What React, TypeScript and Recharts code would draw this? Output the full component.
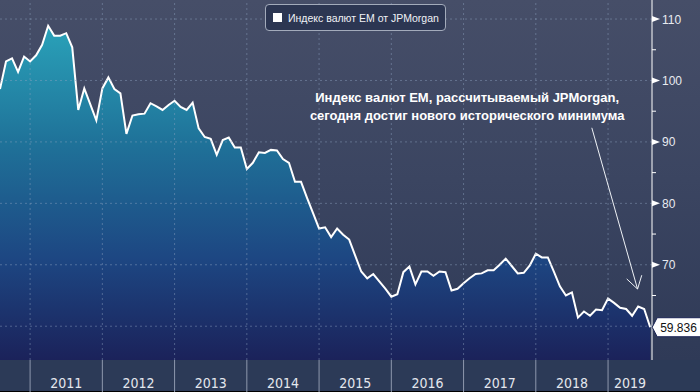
import { AreaChart, Area, XAxis, YAxis, ReferenceLine, ReferenceDot } from "recharts"

// JPMorgan EM currency index, monthly, starting Aug 2010
const seriesName = "Индекс валют EM от JPMorgan"
const startYear = 2010
const startMonth = 8
const values = [
  98.6, 103.1, 103.6, 101.4, 103.9, 103.1, 104.1, 105.8, 108.9, 107.3,
  107.3, 107.7, 105.4, 95.2, 98.7, 96.1, 93.5, 98.7, 100.5, 98.6,
  97.9, 91.3, 94.3, 94.5, 94.6, 96.3, 95.8, 95.2, 96.0, 96.7,
  95.7, 95.2, 96.4, 92.2, 90.8, 90.5, 87.9, 90.3, 90.7, 89.1,
  89.1, 85.6, 86.6, 88.3, 88.2, 88.7, 88.6, 87.2, 86.6, 83.5,
  83.5, 80.9, 78.4, 75.9, 76.1, 74.5, 75.9, 74.9, 74.1, 71.5,
  68.9, 67.8, 68.5, 67.3, 66.1, 64.8, 65.2, 68.8, 69.7, 66.8,
  68.9, 68.9, 68.2, 68.9, 68.8, 65.8, 66.1, 67.0, 67.8, 68.5,
  68.6, 69.1, 69.1, 70.0, 71.0, 69.8, 68.6, 68.7, 69.9, 71.8,
  71.2, 71.2, 68.9, 66.5, 65.0, 65.5, 61.4, 62.4, 61.7, 62.7,
  62.6, 64.5, 63.8, 63.0, 62.8, 61.7, 63.2, 62.8, 59.836,
]
const years = [2011, 2012, 2013, 2014, 2015, 2016, 2017, 2018, 2019]
const yTicks = [60, 65, 70, 75, 80, 85, 90, 95, 100, 105, 110]
const gridLevels = [60, 70, 80, 90, 100, 110]
const lastValue = values[values.length - 1]

const noteLines = [
  "Индекс валют EM, рассчитываемый JPMorgan,",
  "сегодня достиг нового исторического минимума",
]
// annotation anchors in (month index, index value)
const noteAt = { m: 77.6, v: 96.5 }
const arrowFrom = { m: 98.3, v: 92.3 }
const arrowTip = { m: 105.9, v: 66.05 }
const arrowArms = [
  { m: 104.1, v: 67.7 },
  { m: 106.6, v: 68.3 },
]

const xMax = 108.3
const yDomain = [54.5, 113.1]

const data = values.map((v, i) => ({ m: i, v }))
const yearStart = (y: number) => (y - startYear) * 12 - (startMonth - 1)
const yearMid = (y: number, i: number) =>
  i === years.length - 1 ? (yearStart(y) + xMax) / 2 : yearStart(y) + 6

const boundaries = years.map(yearStart)
const mids = years.map(yearMid)
const xTicks = [...boundaries, ...mids].sort((a, b) => a - b)

const narrow = "'Liberation Sans Narrow', 'DejaVu Sans Condensed', Arial, sans-serif"
const sans = "'Liberation Sans', Arial, sans-serif"

const XTick = (p: any) => {
  const v = p.payload.value
  const { x, y } = p
  const b = boundaries.indexOf(v)
  if (b >= 0) {
    return <line x1={x} x2={x} y1={y} y2={y + 32} stroke="#8e98ad" strokeWidth={1} />
  }
  const i = mids.indexOf(v)
  return (
    <text x={x} y={y + 28} textAnchor="middle" fill="#e4e7ee" fontSize={14} fontFamily={narrow}>
      {years[i]}
    </text>
  )
}

const YTick = (p: any) => {
  const v = p.payload.value
  const { x, y } = p
  if (v % 10 !== 0) {
    return <line x1={x} x2={x + 4} y1={y} y2={y} stroke="#ffffff" strokeWidth={1} />
  }
  if (v === 60) return <g />
  return (
    <g>
      <polygon points={`${x},${y - 3} ${x},${y + 3} ${x + 8},${y}`} fill="#ffffff" />
      <text x={x + 10} y={y + 4.5} fill="#e8ebf0" fontSize={12} fontFamily={sans}>
        {v}
      </text>
    </g>
  )
}

const NoteShape = (p: any) => (
  <text
    x={p.cx}
    y={p.cy}
    textAnchor="middle"
    fill="#ffffff"
    fontSize={13}
    fontWeight="bold"
    fontFamily={sans}
  >
    <tspan x={p.cx}>{noteLines[0]}</tspan>
    <tspan x={p.cx} dy={18}>{noteLines[1]}</tspan>
  </text>
)

const LastValueShape = (p: any) => {
  const x = p.cx + 2
  const y = p.cy
  return (
    <g>
      <polygon
        points={`${x},${y} ${x + 5},${y - 9.5} ${x + 50},${y - 9.5} ${x + 50},${y + 9.5} ${x + 5},${y + 9.5}`}
        fill="#ffffff"
        stroke="#1b2456"
        strokeWidth={1}
      />
      <text x={x + 8} y={y + 4.5} fill="#111111" fontSize={12} fontFamily={sans}>
        {lastValue.toFixed(3)}
      </text>
    </g>
  )
}

export default function App() {
  return (
    <div
      style={{
        position: "absolute",
        left: 0,
        top: 0,
        width: 700,
        height: 392,
        background:
          "linear-gradient(to bottom, #464e68 0px, #3b4561 180px, #2f3a57 360px, #2c3a57 360px, #2c3a57 391px, #000000 391px)",
      }}
    >
      <AreaChart width={700} height={392} data={data} margin={{ top: 0, right: 0, bottom: 0, left: 0 }}>
        <defs>
          <linearGradient id="emFill" x1="0" y1="0" x2="0" y2="1">
            <stop offset="0%" stopColor="#2aa2b9" />
            <stop offset="35%" stopColor="#1f7299" />
            <stop offset="70%" stopColor="#1d4682" />
            <stop offset="100%" stopColor="#1b225a" />
          </linearGradient>
        </defs>

        <XAxis
          dataKey="m"
          type="number"
          domain={[0, xMax]}
          ticks={xTicks}
          interval={0}
          height={32}
          axisLine={false}
          tickLine={false}
          tickSize={0}
          tickMargin={0}
          tick={<XTick />}
        />
        <YAxis
          orientation="right"
          domain={yDomain}
          allowDataOverflow
          ticks={yTicks}
          interval={0}
          width={48}
          tickSize={0}
          tickMargin={0}
          tickLine={false}
          axisLine={{ stroke: "#ffffff" }}
          tick={<YTick />}
        />

        <Area
          type="linear"
          dataKey="v"
          name={seriesName}
          stroke="#ffffff"
          strokeWidth={2}
          fill="url(#emFill)"
          fillOpacity={1}
          dot={false}
          activeDot={false}
          isAnimationActive={false}
        />

        {gridLevels.map((g) => (
          <ReferenceLine key={"h" + g} y={g} stroke="#8fa3c2" strokeOpacity={0.45} strokeDasharray="2 3" />
        ))}
        {boundaries.map((b) => (
          <ReferenceLine key={"v" + b} x={b} stroke="#8fa3c2" strokeOpacity={0.45} strokeDasharray="2 3" />
        ))}

        <ReferenceLine
          segment={[{ x: arrowFrom.m, y: arrowFrom.v }, { x: arrowTip.m, y: arrowTip.v }]}
          stroke="#eef1f5"
          strokeWidth={1}
        />
        {arrowArms.map((a, i) => (
          <ReferenceLine
            key={"arm" + i}
            segment={[{ x: a.m, y: a.v }, { x: arrowTip.m, y: arrowTip.v }]}
            stroke="#eef1f5"
            strokeWidth={1}
          />
        ))}

        <ReferenceDot x={noteAt.m} y={noteAt.v} r={0} shape={NoteShape} ifOverflow="visible" />
        <ReferenceDot x={values.length - 1} y={lastValue} r={0} shape={LastValueShape} ifOverflow="visible" />
      </AreaChart>

      <div
        style={{
          position: "absolute",
          left: 265,
          top: 4,
          width: 181,
          height: 27,
          boxSizing: "border-box",
          border: "1px solid #a3abbb",
          borderRadius: 4,
          background: "#2c3652",
          display: "flex",
          alignItems: "center",
          paddingLeft: 7,
          fontFamily: sans,
          fontSize: 10.5,
          color: "#f0f2f6",
          whiteSpace: "nowrap",
        }}
      >
        <span style={{ display: "inline-block", width: 9, height: 9, background: "#ffffff", marginRight: 6 }} />
        {seriesName}
      </div>
    </div>
  )
}
